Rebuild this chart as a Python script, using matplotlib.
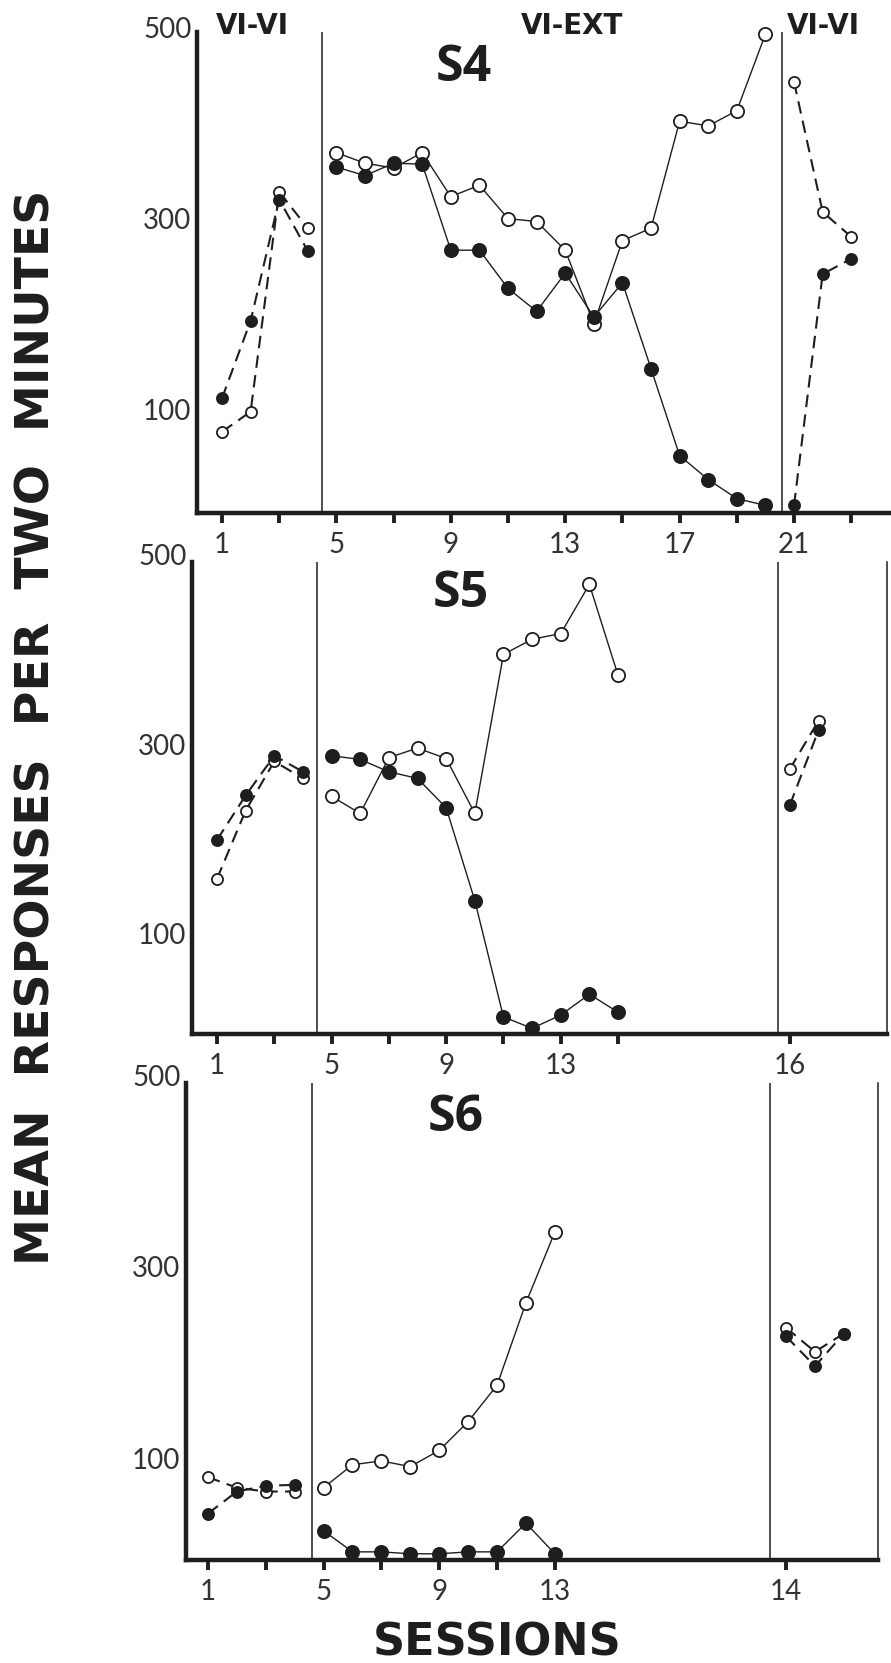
import matplotlib.pyplot as plt

W, H = 891, 1663
INK = '#1e1e1e'

# ---- S4 ----
s4_pre_sessions = [1, 2, 3, 4]
s4_pre_closed = [112, 193, 320, 266]
s4_pre_open = [77, 98, 328, 290]
s4_ext_sessions = list(range(5, 21))
s4_ext_closed = [354, 345, 358, 357, 267, 267, 227, 203, 243, 197, 233, 143, 52, 27, 7, 0]
s4_ext_open = [369, 358, 353, 369, 323, 335, 300, 297, 267, 190, 277, 290, 402, 397, 413, 493]
s4_post_sessions = [21, 22, 23]
s4_post_closed = [0, 242, 258]
s4_post_open = [443, 307, 281]
s4_ticks = list(range(1, 24, 2))
s4_labels = [1, 5, 9, 13, 17, 21]

# ---- S5 ----
s5_pre_sessions = [1, 2, 3, 4]
s5_pre_closed = [199, 246, 288, 271]
s5_pre_open = [158, 230, 282, 264]
s5_ext_sessions = list(range(5, 16))
s5_ext_closed = [288, 284, 271, 264, 233, 135, 12, 0, 14, 36, 17]
s5_ext_open = [245, 227, 286, 296, 285, 227, 395, 411, 417, 469, 373]
s5_post_sessions = [16, 17]
s5_post_closed = [236, 315]
s5_post_open = [274, 325]
s5_ticks = list(range(1, 16, 2)) + [16]
s5_labels = [1, 5, 9, 13, 16]

# ---- S6 ----
s6_pre_sessions = [1, 2, 3, 4]
s6_pre_closed = [42, 65, 71, 72]
s6_pre_open = [80, 69, 65, 65]
s6_ext_sessions = list(range(5, 14))
s6_ext_closed = [24, 2, 2, 0, 0, 2, 2, 32, 0]
s6_ext_open = [69, 93, 97, 91, 108, 138, 176, 262, 336]
s6_post_sessions = [14, 15, 16]
s6_post_closed = [227, 196, 230]
s6_post_open = [236, 211, 230]
s6_ticks = list(range(1, 14, 2)) + [14]
s6_labels = [1, 5, 9, 13, 14]

y_ticks = [100, 300, 500]

subjects = [
    ('S4', (s4_pre_sessions, s4_pre_closed, s4_pre_open),
     (s4_ext_sessions, s4_ext_closed, s4_ext_open),
     (s4_post_sessions, s4_post_closed, s4_post_open), s4_ticks, s4_labels),
    ('S5', (s5_pre_sessions, s5_pre_closed, s5_pre_open),
     (s5_ext_sessions, s5_ext_closed, s5_ext_open),
     (s5_post_sessions, s5_post_closed, s5_post_open), s5_ticks, s5_labels),
    ('S6', (s6_pre_sessions, s6_pre_closed, s6_pre_open),
     (s6_ext_sessions, s6_ext_closed, s6_ext_open),
     (s6_post_sessions, s6_post_closed, s6_post_open), s6_ticks, s6_labels),
]

# panel boxes in pixels (left, right, top, bottom) and axis settings
layout = [
    dict(box=(197, 891, 27.5, 513), xlim=(0.126, 24.39), ylim=(-8, 500),
         seps=(4.5, 20.58), shift=0, right=False, top=495, title=(464, 81)),
    dict(box=(192, 887, 555, 1034), xlim=(0.127, 24.39), ylim=(-6, 500),
         seps=(4.49, 20.57), shift=5, right=True, top=493, title=(461, 607)),
    dict(box=(186, 878, 1075, 1560), xlim=(0.24, 24.18), ylim=(-6.5, 500),
         seps=(4.6, 20.45), shift=7, right=True, top=492, title=(456, 1131)),
]

plt.rcParams['font.family'] = ['Lato', 'DejaVu Sans']

fig = plt.figure(figsize=(W / 100, H / 100), dpi=100)
fig.patch.set_facecolor('white')


def fx(x):
    return x / W


def fy(y):
    return 1 - y / H


def draw_phase(ax, xs, closed, opened, dashed):
    if dashed:
        ls, lw, ms = (0, (6, 3.5)), 1.5, 8
    else:
        ls, lw, ms = '-', 1.0, 9.5
    ax.plot(xs, opened, ls=ls, lw=lw, color=INK, marker='o', ms=ms,
            mfc='white', mec=INK, mew=1.3, zorder=3, clip_on=False)
    ax.plot(xs, closed, ls=ls, lw=lw, color=INK, marker='o', ms=ms,
            mfc=INK, mec=INK, mew=1.3, zorder=4, clip_on=False)


for (name, pre, ext, post, ticks, labeled), lay in zip(subjects, layout):
    l, r, t, b = lay['box']
    ax = fig.add_axes([fx(l), fy(b), (r - l) / W, (b - t) / H])
    ax.set_facecolor('none')
    last_ext = max(ext[0])

    def slot(s, last_ext=last_ext, shift=lay['shift']):
        return s + shift if s > last_ext else s

    draw_phase(ax, [slot(s) for s in pre[0]], pre[1], pre[2], True)
    draw_phase(ax, [slot(s) for s in ext[0]], ext[1], ext[2], False)
    draw_phase(ax, [slot(s) for s in post[0]], post[1], post[2], True)

    ax.vlines(lay['seps'], lay['ylim'][0], lay['top'], color=INK, lw=1.1, zorder=2)

    ax.set_xlim(*lay['xlim'])
    ax.set_ylim(*lay['ylim'])
    ax.set_xticks([slot(s) for s in ticks])
    ax.set_xticklabels([str(s) if s in labeled else '' for s in ticks])
    ax.set_yticks(y_ticks)
    ax.set_yticklabels([str(v) for v in y_ticks])

    ax.spines['top'].set_visible(False)
    ax.spines['right'].set_visible(lay['right'])
    ax.spines['right'].set_linewidth(1.1)
    ax.spines['right'].set_bounds(lay['ylim'][0], lay['top'])
    for side in ('left', 'bottom'):
        ax.spines[side].set_linewidth(3.2)
        ax.spines[side].set_color(INK)
    ax.spines['right'].set_color(INK)
    ax.spines['left'].set_bounds(lay['ylim'][0], lay['top'])

    ax.tick_params(axis='x', direction='out', length=7.5, width=2.8, color=INK,
                   pad=6, labelsize=20, labelcolor='#333333')
    ax.tick_params(axis='y', length=0, pad=4, labelsize=20, labelcolor='#333333')

    tx, ty = lay['title']
    fig.text(fx(tx), fy(ty), name, ha='center', va='baseline', fontsize=36,
             family='Open Sans', fontweight='bold', color=INK)

head = dict(va='baseline', fontsize=20, family='DejaVu Sans',
            fontweight='bold', color=INK)
fig.text(fx(252), fy(34.4), 'VI-VI', ha='center', **head)
fig.text(fx(572), fy(34.4), 'VI-EXT', ha='center', **head)
fig.text(fx(823.5), fy(34.4), 'VI-VI', ha='center', **head)

fig.text(fx(50), fy(727), 'MEAN  RESPONSES  PER  TWO  MINUTES', rotation=90,
         rotation_mode='anchor', ha='center', va='baseline', fontsize=34,
         family='DejaVu Sans', fontweight='bold', color=INK)
fig.text(fx(497), fy(1656), 'SESSIONS', ha='center', va='baseline',
         fontsize=32, family='DejaVu Sans', fontweight='bold', color=INK)

fig.savefig('out.png', dpi=100, facecolor='white')
